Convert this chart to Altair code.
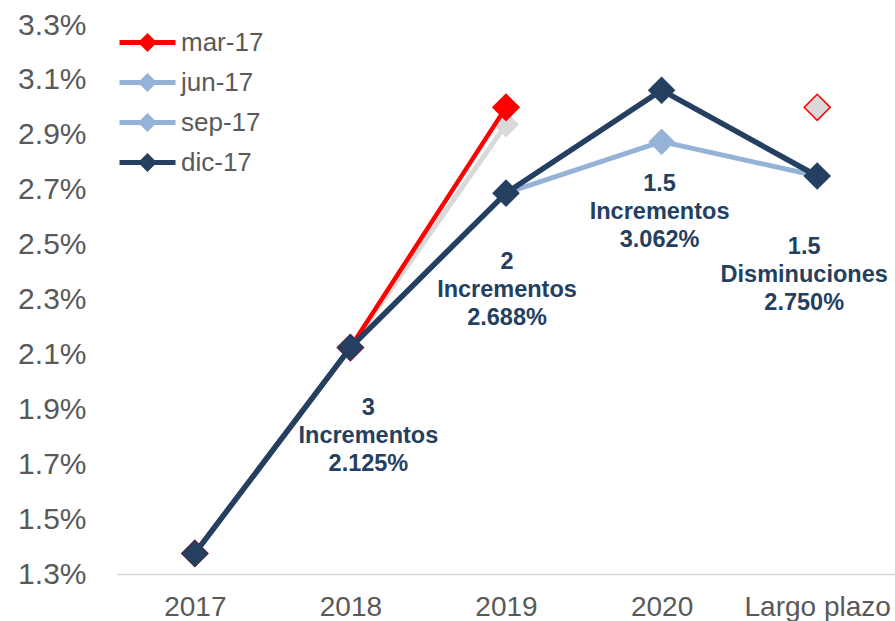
import altair as alt
import pandas as pd

# ---- data ----
categorias = ["2017", "2018", "2019", "2020", "Largo plazo"]
series = ["mar-17", "jun-17", "sep-17", "dic-17"]
mar17 = [1.375, 2.125, 3.0, None, 3.0]
jun17 = [1.375, 2.125, 2.9375, None, 3.0]
sep17 = [1.375, 2.125, 2.6875, 2.875, 2.75]
dic17 = [1.375, 2.125, 2.6875, 3.0625, 2.75]

ticks_y = [1.3, 1.5, 1.7, 1.9, 2.1, 2.3, 2.5, 2.7, 2.9, 3.1, 3.3]

etiquetas_cat = ["2018", "2019", "2020", "Largo plazo"]
etiquetas_val = [2.125, 2.6875, 3.0625, 2.75]
etiquetas_txt = [
    "3\nIncrementos\n2.125%",
    "2\nIncrementos\n2.688%",
    "1.5\nIncrementos\n3.062%",
    "1.5\nDisminuciones\n2.750%",
]

# ---- styles ----
FONT = "Liberation Sans, Arial, sans-serif"
GRIS_TXT = "#595959"
NAVY = "#243F60"
colores_leyenda = ["#FF0000", "#95B3D7", "#95B3D7", NAVY]
estilos = {
    "sep-17": dict(color="#95B3D7", ancho=5, size=700),
    "jun-17": dict(color="#D9D9D9", ancho=5, size=680),
    "mar-17": dict(color="#FF0000", ancho=4.5, size=680),
    "dic-17": dict(color=NAVY, ancho=5.5, size=760),
}
orden_dibujo = ["sep-17", "jun-17", "mar-17", "dic-17"]

# ---- tables built from the arrays ----
valores = {"mar-17": mar17, "jun-17": jun17, "sep-17": sep17, "dic-17": dic17}
filas = []
for s in series:
    seg = 0
    for c, v in zip(categorias, valores[s]):
        if v is None:
            seg += 1
            continue
        filas.append({"serie": s, "categoria": c, "valor": v, "tramo": f"{s}-{seg}"})
df = pd.DataFrame(filas)
df_et = pd.DataFrame({"categoria": etiquetas_cat, "valor": etiquetas_val, "texto": etiquetas_txt})

x_enc = alt.X(
    "categoria:N",
    sort=categorias,
    scale=alt.Scale(domain=categorias, padding=0.5),
    axis=alt.Axis(
        title=None, labelAngle=0, ticks=False, tickSize=0, labelPadding=19,
        labelFontSize=28, labelColor=GRIS_TXT, labelFont=FONT,
        domainColor="#D9D9D9", domainWidth=1.5, grid=False,
    ),
)
y_enc = alt.Y(
    "valor:Q",
    scale=alt.Scale(domain=[1.3, 3.3], nice=False, zero=False),
    axis=alt.Axis(
        title=None, values=ticks_y, labelExpr="format(datum.value, '.1f') + '%'",
        ticks=False, tickSize=0, domain=False, grid=False, labelPadding=31,
        labelFontSize=30, labelColor=GRIS_TXT, labelFont=FONT,
    ),
)

base = alt.Chart(df)

legend_path = "M-2,0L2,0M0,-0.42L0.42,0L0,0.42L-0.42,0Z"
leyenda = base.transform_filter("false").mark_line(strokeWidth=5).encode(
    x=x_enc, y=y_enc,
    color=alt.Color(
        "serie:N",
        scale=alt.Scale(domain=series, range=colores_leyenda),
        legend=alt.Legend(
            title=None, orient="none", legendX=14, legendY=1,
            symbolType=legend_path, symbolSize=784, symbolStrokeWidth=5,
            labelFontSize=26, labelFont=FONT, labelColor=GRIS_TXT,
            labelOffset=17, rowPadding=7, padding=0,
        ),
    ),
)

capas = [leyenda]
for s in orden_dibujo:
    e = estilos[s]
    datos = base.transform_filter(alt.datum.serie == s)
    linea = datos.mark_line(color=e["color"], strokeWidth=e["ancho"]).encode(
        x=x_enc, y=y_enc, detail="tramo:N"
    )
    if s == "mar-17":
        puntos = datos.mark_point(
            shape="diamond", filled=True, size=e["size"], stroke=e["color"], strokeWidth=1.5, opacity=1
        ).encode(
            x=x_enc, y=y_enc,
            fill=alt.condition("datum.categoria == 'Largo plazo'", alt.value("#D9D9D9"), alt.value(e["color"])),
        )
    else:
        puntos = datos.mark_point(
            shape="diamond", filled=True, size=e["size"], color=e["color"], opacity=1
        ).encode(x=x_enc, y=y_enc)
    capas += [linea, puntos]

desplaz = {"2018": (18, 48), "2019": (1, 57), "2020": (-2, 82), "Largo plazo": (-13, 59)}
for c in etiquetas_cat:
    dx, dy = desplaz[c]
    capas.append(
        alt.Chart(df_et).transform_filter(alt.datum.categoria == c).mark_text(
            font=FONT, fontSize=23.5, fontWeight="bold", color=NAVY, align="center",
            baseline="top", lineBreak="\n", lineHeight=28, dx=dx, dy=dy,
        ).encode(x=x_enc, y=y_enc, text="texto:N")
    )

chart = alt.layer(*capas).properties(
    width=778, height=549,
    autosize=alt.AutoSizeParams(type="none"),
    padding={"left": 117, "top": 25, "right": 0, "bottom": 47},
    background="white",
).configure_view(stroke=None)

chart.save("out.html", embed_options={"renderer": "svg", "actions": False})
